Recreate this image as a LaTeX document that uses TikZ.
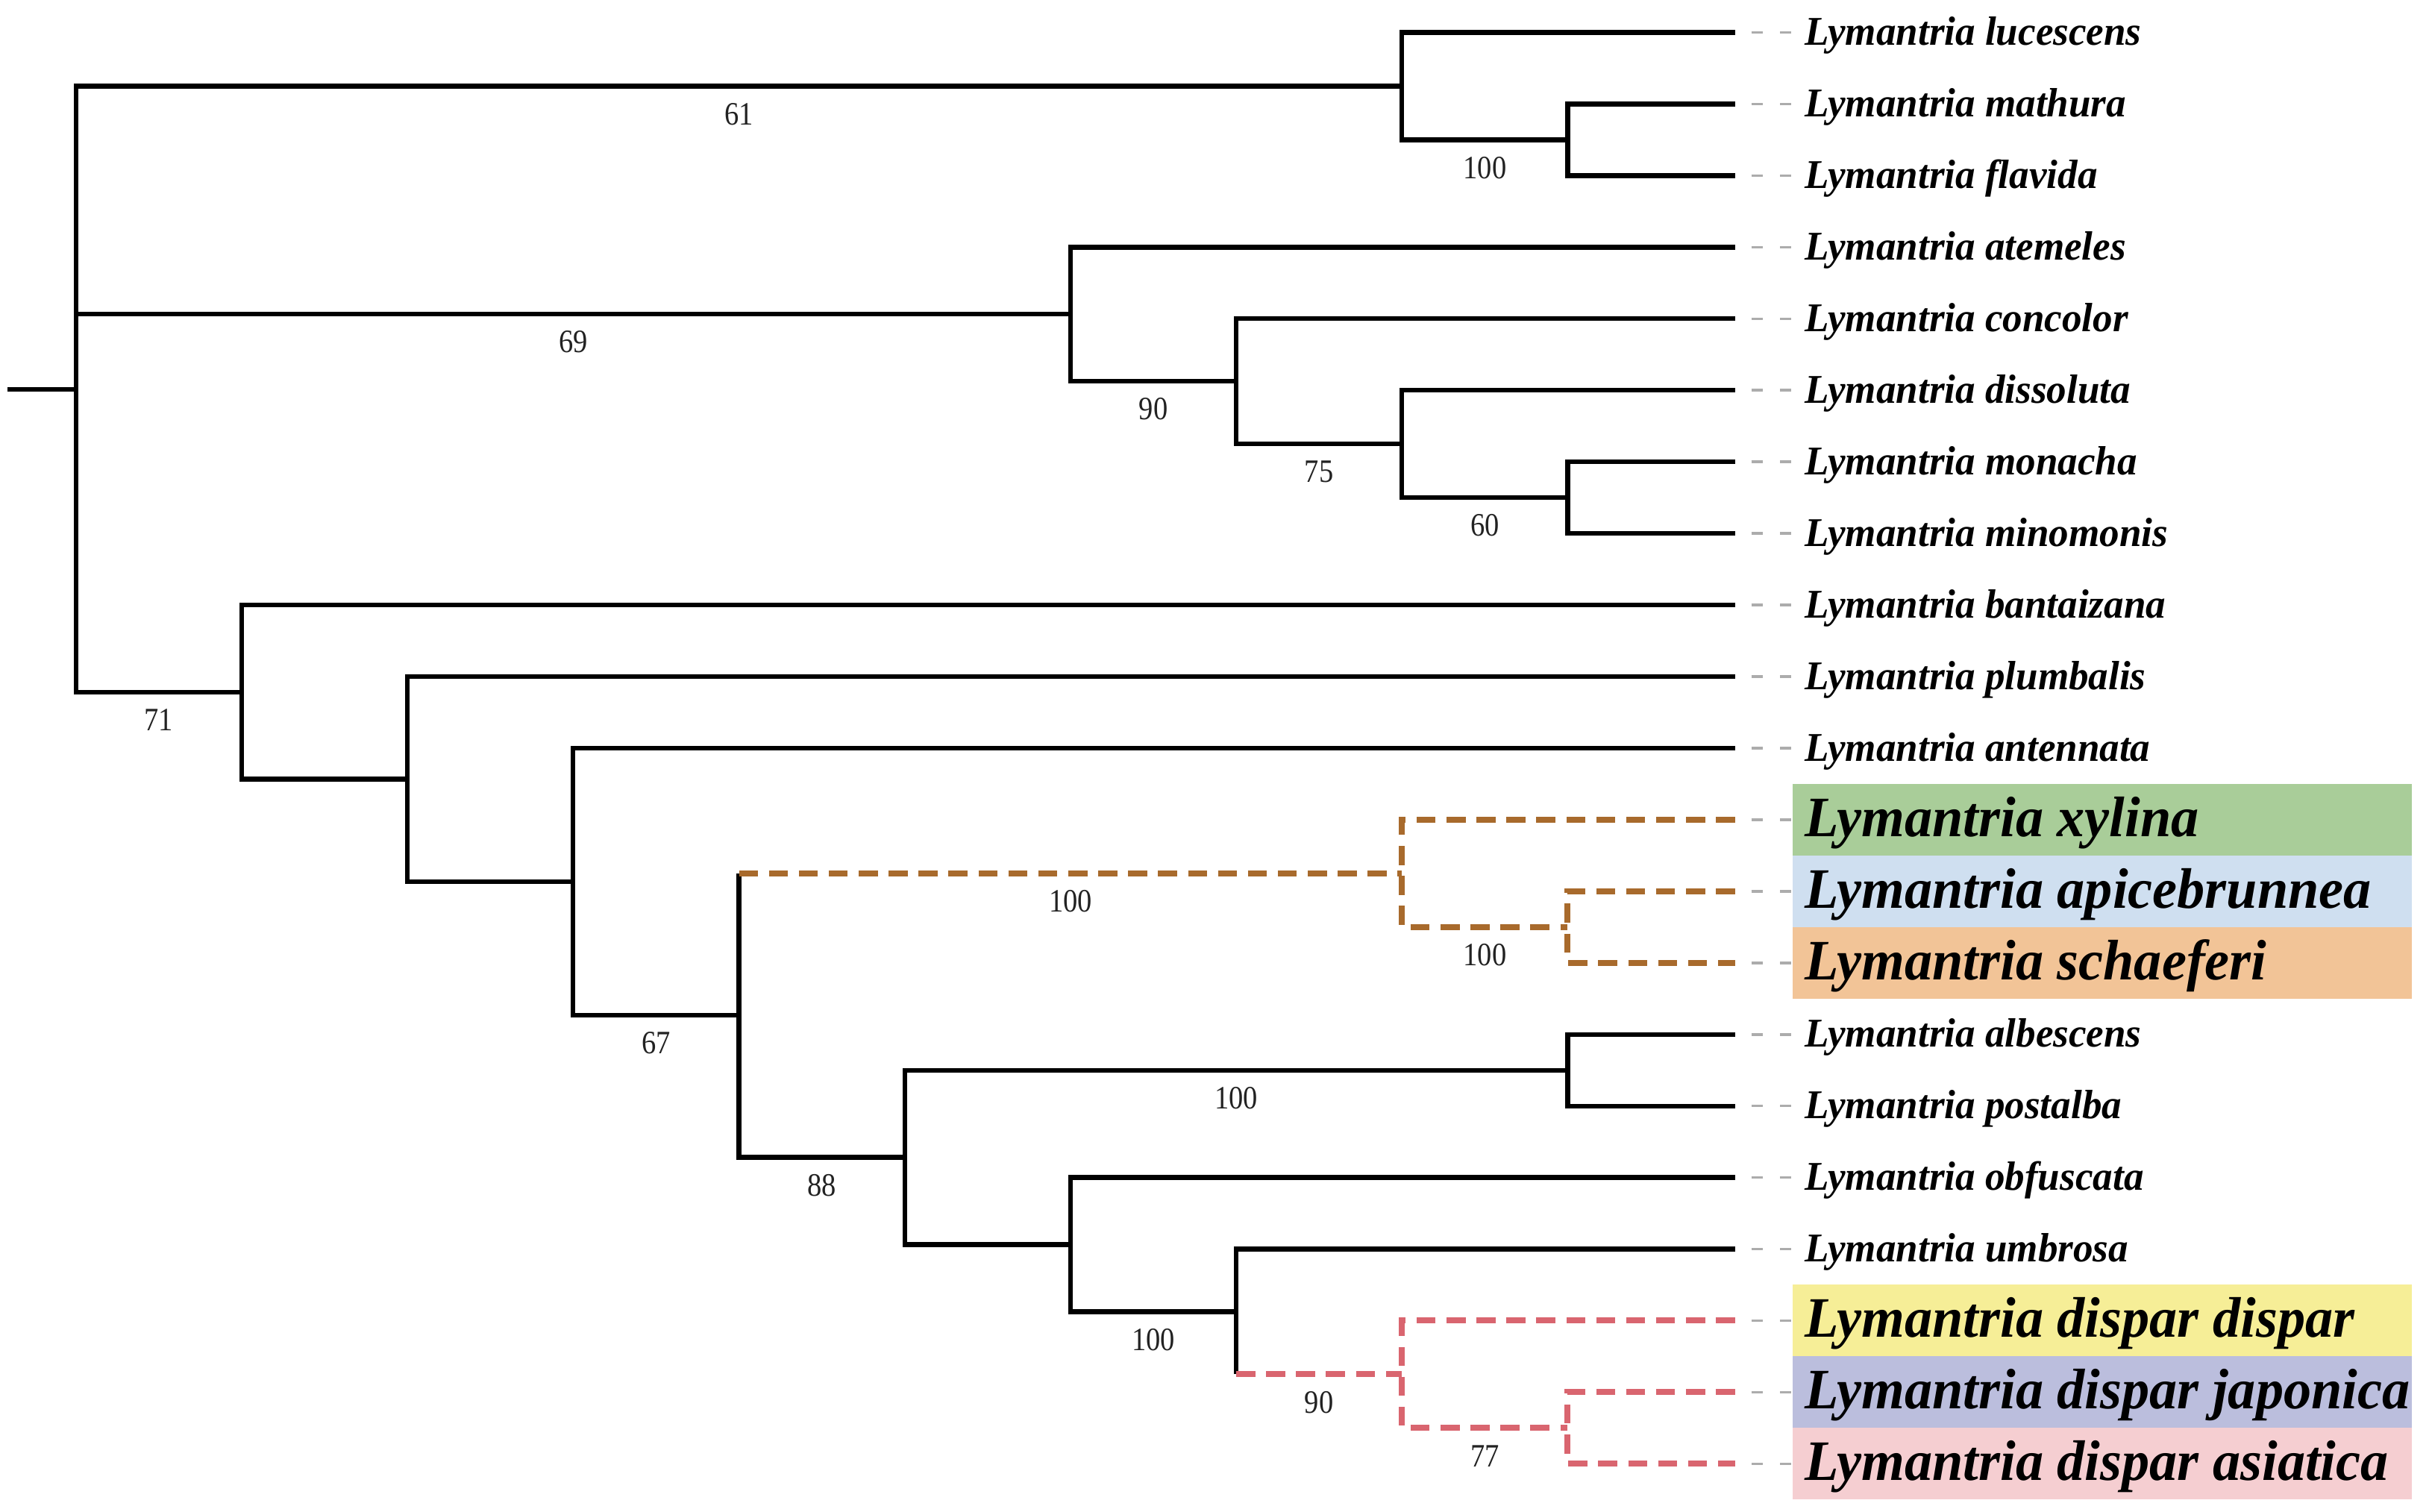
\documentclass[tikz,border=0pt]{standalone}
\usepackage{fontspec}
\setmainfont{Liberation Serif}
\newfontfamily\numfont[FakeStretch=0.88]{Liberation Serif}
\newfontfamily\taxfont[FakeStretch=0.97]{Liberation Serif}
\definecolor{brownd}{HTML}{A86A2C}
\definecolor{redd}{HTML}{D9656F}
\definecolor{cgreen}{HTML}{A9CD99}
\definecolor{cblue}{HTML}{CFDFF0}
\definecolor{corange}{HTML}{F2C497}
\definecolor{cyellow}{HTML}{F6EE97}
\definecolor{cpurple}{HTML}{BBBEDD}
\definecolor{cpink}{HTML}{F5CED1}
\definecolor{numcol}{HTML}{222222}
\tikzset{
  br/.style={line width=1.7pt, black, line join=miter},
  brownbr/.style={line width=2.2pt, brownd, dash pattern=on 7pt off 4pt},
  redbr/.style={line width=2.2pt, redd, dash pattern=on 7pt off 4pt},
  leafdash/.style={line width=1pt, gray!65, dash pattern=on 0pt off 6pt on 4.3pt off 6.3pt on 4pt off 30pt},
  taxon/.style={anchor=west, inner xsep=4.55pt, inner ysep=0pt, yshift=-1.1pt, font=\taxfont\bfseries\itshape\fontsize{15}{17}\selectfont},
  bigtaxon/.style={anchor=west, inner xsep=4.55pt, inner ysep=0pt, yshift=-1.1pt, font=\taxfont\bfseries\itshape\fontsize{21}{23}\selectfont},
  bs/.style={inner sep=0pt, text=numcol, font=\numfont\fontsize{12}{13}\selectfont},
}
\begin{document}
\begin{tikzpicture}[x=0.02cm, y=-0.02cm]
\useasboundingbox (0,0) rectangle (1568,976);
% colour bands
\fill[cgreen]  (1157,506.1) rectangle (1557,552.3);
\fill[cblue]   (1157,552.3) rectangle (1557,598.5);
\fill[corange] (1157,598.5) rectangle (1557,644.7);
\fill[cyellow] (1157,829.5) rectangle (1557,875.7);
\fill[cpurple] (1157,875.7) rectangle (1557,921.9);
\fill[cpink]   (1157,921.9) rectangle (1557,968.1);
% leaf tips
\foreach \i/\yy in {1/21,2/67.2,3/113.4,4/159.6,5/205.8,6/252,7/298.2,8/344.4,9/390.6,10/436.8,11/483,12/529.2,13/575.4,14/621.6,15/667.8,16/714,17/760.2,18/806.4,19/852.6,20/898.8,21/945}
  \coordinate (leaf\i) at (1120,\yy);
% internal nodes
\coordinate (rootstart) at (5,251.2);
\coordinate (root) at (49,251.2);
\coordinate (A) at (905,55.65);
\coordinate (B) at (1012,90.3);
\coordinate (C) at (691,202.9);
\coordinate (D) at (798,246.2);
\coordinate (E) at (905,286.65);
\coordinate (F) at (1012,321.3);
\coordinate (G) at (156,446.8);
\coordinate (H) at (263,503);
\coordinate (I) at (370,569.25);
\coordinate (J) at (477,655.5);
\coordinate (K) at (905,563.85);
\coordinate (L) at (1012,598.5);
\coordinate (M) at (584,747.2);
\coordinate (N) at (1012,690.9);
\coordinate (O) at (691,803.5);
\coordinate (P) at (798,846.8);
\coordinate (Q) at (905,887.25);
\coordinate (R) at (1012,921.9);
% taxon labels
\node[taxon] (lab1) at (1157,21) {Lymantria lucescens};
\node[taxon] (lab2) at (1157,67.2) {Lymantria mathura};
\node[taxon] (lab3) at (1157,113.4) {Lymantria flavida};
\node[taxon] (lab4) at (1157,159.6) {Lymantria atemeles};
\node[taxon] (lab5) at (1157,205.8) {Lymantria concolor};
\node[taxon] (lab6) at (1157,252) {Lymantria dissoluta};
\node[taxon] (lab7) at (1157,298.2) {Lymantria monacha};
\node[taxon] (lab8) at (1157,344.4) {Lymantria minomonis};
\node[taxon] (lab9) at (1157,390.6) {Lymantria bantaizana};
\node[taxon] (lab10) at (1157,436.8) {Lymantria plumbalis};
\node[taxon] (lab11) at (1157,483) {Lymantria antennata};
\node[bigtaxon] (lab12) at (1157,529.2) {Lymantria xylina};
\node[bigtaxon] (lab13) at (1157,575.4) {Lymantria apicebrunnea};
\node[bigtaxon] (lab14) at (1157,621.6) {Lymantria schaeferi};
\node[taxon] (lab15) at (1157,667.8) {Lymantria albescens};
\node[taxon] (lab16) at (1157,714) {Lymantria postalba};
\node[taxon] (lab17) at (1157,760.2) {Lymantria obfuscata};
\node[taxon] (lab18) at (1157,806.4) {Lymantria umbrosa};
\node[bigtaxon] (lab19) at (1157,852.6) {Lymantria dispar dispar};
\node[bigtaxon] (lab20) at (1157,898.8) {Lymantria dispar japonica};
\node[bigtaxon] (lab21) at (1157,945) {Lymantria dispar asiatica};
% grey leaf connectors
\foreach \i in {1,...,21}
  \draw[leafdash] (leaf\i) -- (leaf\i -| lab\i.west);
% black branches
\draw[br] (rootstart) -- (root);
\draw[br] (A) -| (root) |- (G);
\draw[br] (root) |- (C);
\draw[br] (leaf1) -| (A) |- (B);
\draw[br] (leaf2) -| (B) |- (leaf3);
\draw[br] (leaf4) -| (C) |- (D);
\draw[br] (leaf5) -| (D) |- (E);
\draw[br] (leaf6) -| (E) |- (F);
\draw[br] (leaf7) -| (F) |- (leaf8);
\draw[br] (leaf9) -| (G) |- (H);
\draw[br] (leaf10) -| (H) |- (I);
\draw[br] (leaf11) -| (I) |- (J);
\draw[br] (J |- K) -- (J) |- (M);
\draw[br] (N) -| (M) |- (O);
\draw[br] (leaf15) -| (N) |- (leaf16);
\draw[br] (leaf17) -| (O) |- (P);
\draw[br] (leaf18) -| (P) -- (P |- Q);
% coloured clades
\draw[brownbr] (J |- K) -- (K);
\draw[brownbr] (leaf12) -| (K) |- (L);
\draw[brownbr] (leaf13) -| (L) |- (leaf14);
\draw[redbr] (P |- Q) -- (Q);
\draw[redbr] (leaf19) -| (Q) |- (R);
\draw[redbr] (leaf20) -| (R) |- (leaf21);
% support values
\node[bs] (bsA) at (477,73.6) {61};
\node[bs] (bsB) at (958.5,108.3) {100};
\node[bs] (bsC) at (370,220.9) {69};
\node[bs] (bsD) at (744.5,264.2) {90};
\node[bs] (bsE) at (851.5,304.6) {75};
\node[bs] (bsF) at (958.5,339.3) {60};
\node[bs] (bsG) at (102.5,464.8) {71};
\node[bs] (bsJ) at (423.5,673.5) {67};
\node[bs] (bsK) at (691,581.85) {100};
\node[bs] (bsL) at (958.5,616.5) {100};
\node[bs] (bsM) at (530.5,765.2) {88};
\node[bs] (bsN) at (798,708.9) {100};
\node[bs] (bsP) at (744.5,864.8) {100};
\node[bs] (bsQ) at (851.5,905.25) {90};
\node[bs] (bsR) at (958.5,939.9) {77};
\end{tikzpicture}
\end{document}
